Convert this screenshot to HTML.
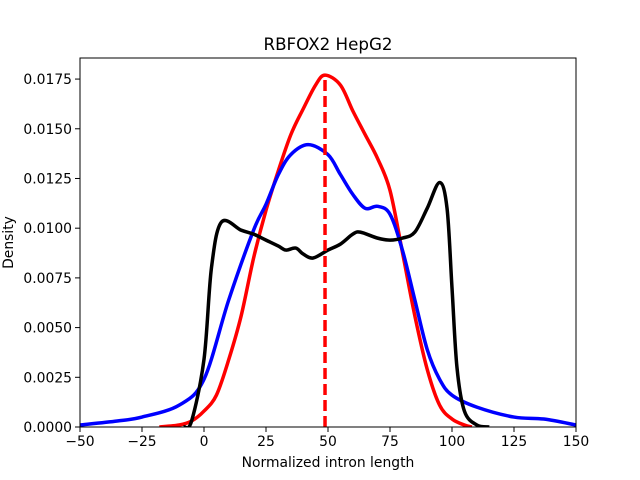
<!DOCTYPE html>
<html><head><meta charset="utf-8"><style>
body{margin:0;background:#fff}
svg{display:block;font-family:"DejaVu Sans","Liberation Sans",sans-serif}
</style></head><body>
<svg id="c" width="640" height="480"></svg>
<script>
const xTicks=[-50,-25,0,25,50,75,100,125,150];
const yTicks=[0,0.0025,0.005,0.0075,0.01,0.0125,0.015,0.0175];
const yTickLabels=["0.0000","0.0025","0.0050","0.0075","0.0100","0.0125","0.0150","0.0175"];
const redX=[-18,-10,-5,0,5,10,15,20,25,30,35,40,45,48.8,55,60,65,70,75,80,85,90,95,100,105,108];
const redY=[0,0.0001,0.0003,0.0008,0.0016,0.0034,0.0056,0.0085,0.0109,0.0129,0.0147,0.016,0.0172,0.0177,0.0172,0.0159,0.0147,0.0135,0.0119,0.0088,0.0056,0.0029,0.0011,0.0004,0.0001,0];
const blueX=[-50,-35,-25,-10,0,10,20,25,30,35,42,50,55,60,65,70,75,80,85,90,95,100,110,125,137,150];
const blueY=[0.0001,0.0003,0.0005,0.0011,0.0024,0.0064,0.0099,0.0112,0.0127,0.0137,0.0142,0.0137,0.0127,0.0117,0.011,0.0111,0.0107,0.0089,0.0064,0.0039,0.0024,0.0016,0.001,0.0005,0.0004,0.0001];
const blackX=[-8,-5,0,3,7,15,20,25,30,33,37,40,44,50,55,60,63,70,75,80,85,90,95,98,100,102,105,110,115];
const blackY=[0,0.0003,0.0034,0.008,0.0103,0.0099,0.0097,0.0094,0.0091,0.0089,0.009,0.0087,0.0085,0.0089,0.0092,0.0097,0.0098,0.0095,0.0094,0.0095,0.0098,0.011,0.0123,0.011,0.007,0.003,0.0008,0.0001,0];
const medianX=48.8, medianY=0.0177;
const L=80,R=576,T=58,B=427,xMin=-50,xMax=150,yMax=0.01856;
const sx=v=>L+(v-xMin)/(xMax-xMin)*(R-L);
const sy=v=>B-v/yMax*(B-T);
const svg=document.getElementById('c');
const NS='http://www.w3.org/2000/svg';
function mk(t,a){const e=document.createElementNS(NS,t);for(const k in a)e.setAttribute(k,a[k]);svg.appendChild(e);return e;}
const defs=mk('defs',{});const cp=document.createElementNS(NS,'clipPath');cp.setAttribute('id','cl');const cr=document.createElementNS(NS,'rect');
cr.setAttribute('x',L);cr.setAttribute('y',T);cr.setAttribute('width',R-L);cr.setAttribute('height',B-T);cp.appendChild(cr);defs.appendChild(cp);
function path(xs,ys){const p=xs.map((x,i)=>[sx(x),sy(ys[i])]);let d='M'+p[0][0]+','+p[0][1];
for(let i=0;i<p.length-1;i++){const p0=p[Math.max(0,i-1)],p1=p[i],p2=p[i+1],p3=p[Math.min(p.length-1,i+2)];
const c1=[p1[0]+(p2[0]-p0[0])/6,p1[1]+(p2[1]-p0[1])/6],c2=[p2[0]-(p3[0]-p1[0])/6,p2[1]-(p3[1]-p1[1])/6];
d+=`C${c1[0]},${c1[1]} ${c2[0]},${c2[1]} ${p2[0]},${p2[1]}`;}return d;}
[[redX,redY,'red','red-density-line'],[blueX,blueY,'blue','blue-density-line'],[blackX,blackY,'black','black-density-line']].forEach(([xs,ys,c,n])=>{
const e=mk('path',{d:path(xs,ys),fill:'none',stroke:c,'stroke-width':3.5,'clip-path':'url(#cl)'});

});
const ml=mk('line',{x1:sx(medianX),x2:sx(medianX),y1:sy(0),y2:sy(medianY),stroke:'red','stroke-width':3.5,'stroke-dasharray':'11,5'});


const fr=mk('rect',{x:L,y:T,width:R-L,height:B-T,fill:'none',stroke:'#000','stroke-width':1});


xTicks.forEach(v=>{const x=sx(v);mk('line',{x1:x,x2:x,y1:B,y2:B+5,stroke:'#000'});
const t=mk('text',{x:x,y:B+19,'font-size':13.9,'text-anchor':'middle'});t.textContent=(v<0?'\u2212'+(-v):v);

});
yTicks.forEach((v,i)=>{const y=sy(v);mk('line',{x1:L-5,x2:L,y1:y,y2:y,stroke:'#000'});
const t=mk('text',{x:L-8,y:y+5,'font-size':13.9,'text-anchor':'end'});t.textContent=yTickLabels[i];

});
const tt=mk('text',{x:(L+R)/2,y:T-8,'font-size':16.7,'text-anchor':'middle'});tt.textContent='RBFOX2 HepG2';


const xt=mk('text',{x:(L+R)/2,y:467,'font-size':13.9,'text-anchor':'middle'});xt.textContent='Normalized intron length';


const yt=mk('text',{x:13,y:(T+B)/2,'font-size':13.9,'text-anchor':'middle',transform:`rotate(-90 13 ${(T+B)/2})`});yt.textContent='Density';


</script>
</body></html>
